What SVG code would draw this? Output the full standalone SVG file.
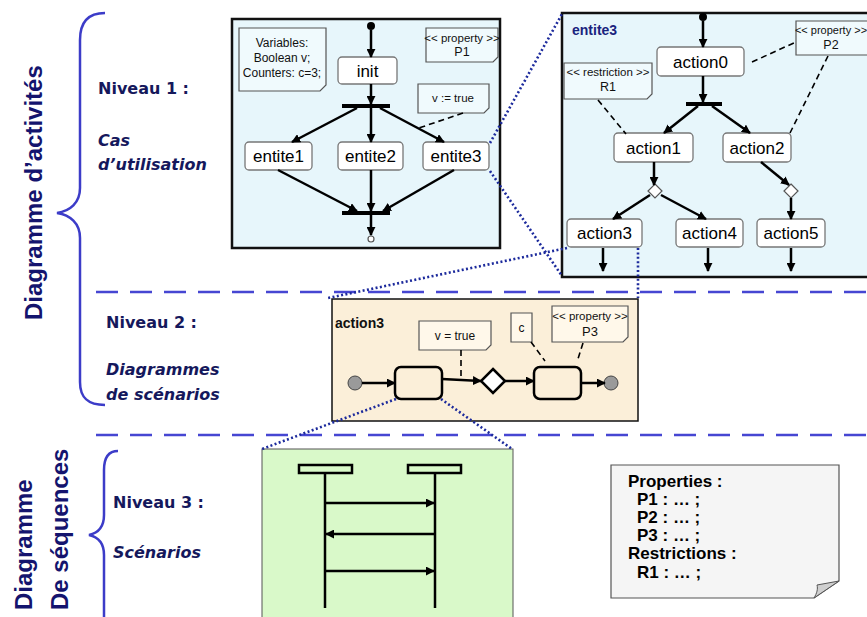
<svg xmlns="http://www.w3.org/2000/svg" width="867" height="617" viewBox="0 0 867 617">
  <defs>
    <marker id="arr" viewBox="0 0 10 10" refX="9" refY="5" markerWidth="9" markerHeight="9" markerUnits="userSpaceOnUse" orient="auto">
      <path d="M0,0 L10,5 L0,10 Z" fill="#000"/>
    </marker>
    <style>
      .sec { fill: #15185c; font-family: "DejaVu Sans", "Liberation Sans", sans-serif; font-weight: bold; font-size: 16px; }
      .sec-i { font-style: italic; }
      .title { fill: #14146e; font-family: "Liberation Sans", Arial, sans-serif; font-weight: bold; font-size: 24px; }
      .brace { fill: none; stroke: #3c3cc8; stroke-width: 2.5; }
      .split { stroke: #4646d2; stroke-width: 2.5; stroke-dasharray: 22 12; }
      .zoomline { stroke: #1c2a9c; stroke-width: 2.6; stroke-dasharray: 2 2.4; fill: none; }
      .frame { stroke: #111; stroke-width: 2.5; fill: #e7f6fb; }
      .node rect { fill: #fff; stroke: #777; stroke-width: 1.3; }
      .node text { font-family: "Liberation Sans", Arial, sans-serif; font-size: 17px; fill: #000; text-anchor: middle; }
      .flow { stroke: #000; stroke-width: 2.5; fill: none; marker-end: url(#arr); }
      .bar { fill: #000; }
      .anchor { stroke: #000; stroke-width: 1.6; stroke-dasharray: 6 4; fill: none; }
      .note path { fill: #f0fafd; stroke: #555; stroke-width: 1.2; }
      .note text { font-family: "Liberation Sans", Arial, sans-serif; font-size: 11.5px; fill: #111; text-anchor: middle; }
      .label { font-family: "Liberation Sans", Arial, sans-serif; font-weight: bold; font-size: 14px; }
      .slot { fill: #fbefd9; stroke: #000; stroke-width: 2.5; }
      .seq { stroke: #000; stroke-width: 2.5; fill: none; }
      .legend text { font-family: "Liberation Sans", Arial, sans-serif; font-weight: bold; font-size: 17px; fill: #000; }
    </style>
  </defs>

  <!-- left side: titles, braces, level captions -->
  <g id="titles">
    <text class="title" transform="translate(42,320) rotate(-90)">Diagramme d’activités</text>
    <text class="title" transform="translate(32,610) rotate(-90)">Diagramme</text>
    <text class="title" transform="translate(68,610) rotate(-90)">De séquences</text>
    <path class="brace" d="M105,13 C88,13 80,22 80,40 L80,188 C80,203 70,211 57,213 C70,215 80,223 80,238 L80,382 C80,398 88,405 105,405"/>
    <path class="brace" d="M118,451 C108,451 104,458 104,470 L104,515 C104,527 98,533 89,535 C98,537 104,543 104,555 L104,617"/>
  </g>

  <g id="captions">
    <text class="sec" x="98" y="94">Niveau 1 :</text>
    <text class="sec sec-i" x="98" y="146">Cas</text>
    <text class="sec sec-i" x="98" y="170">d’utilisation</text>
    <text class="sec" x="106" y="328">Niveau 2 :</text>
    <text class="sec sec-i" x="106" y="375">Diagrammes</text>
    <text class="sec sec-i" x="106" y="400">de scénarios</text>
    <text class="sec" x="113" y="508">Niveau 3 :</text>
    <text class="sec sec-i" x="113" y="558">Scénarios</text>
  </g>

  <g id="separators">
    <line class="split" x1="96" y1="292" x2="867" y2="292"/>
    <line class="split" x1="96" y1="435" x2="867" y2="435"/>
  </g>

  <!-- level 1: use-case activity -->
  <g id="usecase">
    <rect class="frame" x="232" y="19" width="268" height="229"/>
    <g class="note">
      <path d="M239,28 H326 V85 L320,91 H239 Z"/>
      <text x="282" y="47" style="font-size:12px">Variables:</text>
      <text x="282" y="62" style="font-size:12px">Boolean v;</text>
      <text x="282" y="77" style="font-size:12px">Counters: c=3;</text>
    </g>
    <g class="note">
      <path d="M426,28 H498 V57 L493,62 H426 Z"/>
      <text x="462" y="42">&lt;&lt; property &gt;&gt;</text>
      <text x="462" y="56" style="font-size:12.5px">P1</text>
    </g>
    <g class="note">
      <path d="M418,84 H489 V108 L484,113 H418 Z"/>
      <text x="453" y="102">v := true</text>
    </g>
    <circle cx="371" cy="26" r="4" fill="#000"/>
    <rect class="bar" x="342" y="104" width="48" height="4"/>
    <rect class="bar" x="342" y="211" width="48" height="4"/>
    <circle cx="371" cy="239" r="3" fill="#fff" stroke="#555" stroke-width="1.2"/>
  </g>
  <g id="init" class="node"><rect x="338" y="57" width="59" height="27" rx="4"/><text x="367.5" y="77">init</text></g>
  <g id="entite1" class="node"><rect x="245" y="142" width="67" height="28" rx="4"/><text x="278.5" y="162">entite1</text></g>
  <g id="entite2" class="node"><rect x="338" y="142" width="65" height="28" rx="4"/><text x="370.5" y="162">entite2</text></g>
  <g id="entite3" class="node"><rect x="423" y="142" width="66" height="28" rx="4"/><text x="456" y="162">entite3</text></g>

  <!-- level 1 detail: entite3 -->
  <g id="entite3-detail">
    <rect class="frame" x="562" y="13" width="320" height="264"/>
    <text class="label" x="572" y="35" fill="#1a237e">entite3</text>
    <g class="note">
      <path d="M564,63 H652 V94 L647,99 H564 Z"/>
      <text x="608" y="76">&lt;&lt; restriction &gt;&gt;</text>
      <text x="608" y="91" style="font-size:12.5px">R1</text>
    </g>
    <g class="note">
      <path d="M796,21 H876 V50 L871,55 H796 Z"/>
      <text x="831" y="34" style="font-size:11px">&lt;&lt; property &gt;&gt;</text>
      <text x="831" y="49" style="font-size:12.5px">P2</text>
    </g>
    <circle cx="703" cy="17" r="4" fill="#000"/>
    <rect class="bar" x="686" y="102" width="36" height="4"/>
    <path d="M655,184 L662,191 L655,198 L648,191 Z" fill="#fff" stroke="#555" stroke-width="1.2"/>
    <path d="M791,184 L798,191 L791,198 L784,191 Z" fill="#fff" stroke="#555" stroke-width="1.2"/>
  </g>
  <g id="action0" class="node"><rect x="657" y="47" width="87" height="29" rx="4"/><text x="700.5" y="68">action0</text></g>
  <g id="action1" class="node"><rect x="614" y="133" width="79" height="29" rx="4"/><text x="653.5" y="154">action1</text></g>
  <g id="action2" class="node"><rect x="723" y="133" width="68" height="29" rx="4"/><text x="757" y="154">action2</text></g>
  <g id="action3" class="node"><rect x="567" y="219" width="75" height="28" rx="4"/><text x="604.5" y="239">action3</text></g>
  <g id="action4" class="node"><rect x="676" y="219" width="67" height="28" rx="4"/><text x="709.5" y="239">action4</text></g>
  <g id="action5" class="node"><rect x="757" y="219" width="68" height="28" rx="4"/><text x="791" y="239">action5</text></g>

  <!-- level 2: scenario of action3 -->
  <g id="action3-detail">
    <rect x="332" y="299" width="306" height="122" fill="#fbefd9" stroke="#111" stroke-width="1.5"/>
    <text class="label" x="335" y="328" fill="#111">action3</text>
    <g class="note">
      <path d="M419,321 H491 V345 L486,350 H419 Z" style="fill:#fff8ea"/>
      <text x="455" y="340" style="font-size:12px">v = true</text>
    </g>
    <g class="note">
      <path d="M511,313 H532 V342 H511 Z" style="fill:#fff8ea"/>
      <text x="521.5" y="332" style="font-size:12px">c</text>
    </g>
    <g class="note">
      <path d="M552,306 H628 V337 L623,342 H552 Z" style="fill:#fff8ea"/>
      <text x="590" y="320">&lt;&lt; property &gt;&gt;</text>
      <text x="590" y="336" style="font-size:13px">P3</text>
    </g>
    <circle cx="355" cy="383" r="7" fill="#9a9a9a" stroke="#444" stroke-width="1"/>
    <circle cx="611" cy="383" r="7" fill="#9a9a9a" stroke="#444" stroke-width="1"/>
    <path d="M493,369 L505,381 L493,393 L481,381 Z" fill="#fff" stroke="#000" stroke-width="2.5"/>
  </g>
  <g id="step1"><rect class="slot" x="395" y="367" width="47" height="32" rx="6"/></g>
  <g id="step2"><rect class="slot" x="534" y="367" width="47" height="32" rx="6"/></g>

  <!-- level 3: sequence -->
  <g id="sequence">
    <rect x="262" y="449" width="251" height="175" fill="#d9f9c9" stroke="#555" stroke-width="1"/>
    <rect x="299" y="465" width="53" height="8" fill="#d9f9c9" stroke="#000" stroke-width="2.5"/>
    <rect x="408" y="465" width="53" height="8" fill="#d9f9c9" stroke="#000" stroke-width="2.5"/>
    <line class="seq" x1="325" y1="473" x2="325" y2="608"/>
    <line class="seq" x1="435" y1="473" x2="435" y2="608"/>
    <line class="seq" x1="325" y1="503" x2="434" y2="503" marker-end="url(#arr)"/>
    <line class="seq" x1="435" y1="534" x2="326" y2="534" marker-end="url(#arr)"/>
    <line class="seq" x1="325" y1="571" x2="434" y2="571" marker-end="url(#arr)"/>
  </g>

  <!-- legend of properties and restrictions -->
  <g id="legend" class="legend">
    <path d="M611,465 H839 V581 L814,598 H611 Z" fill="#f5f5f5" stroke="#555" stroke-width="1.2"/>
    <path d="M839,581 L814,598 C817,593 818,589 817,585 Z" fill="#cfcfcf" stroke="#555" stroke-width="1"/>
    <text x="628" y="487">Properties :</text>
    <text x="637" y="505">P1 : … ;</text>
    <text x="637" y="523">P2 : … ;</text>
    <text x="637" y="541">P3 : … ;</text>
    <text x="628" y="559">Restrictions :</text>
    <text x="637" y="578">R1 : … ;</text>
  </g>

  <!-- connectors -->
  <g id="connectors">
    <line class="flow" x1="371" y1="30" x2="371" y2="57"/>
    <line class="flow" x1="371" y1="84" x2="371" y2="104"/>
    <line class="flow" x1="357" y1="108" x2="292" y2="142"/>
    <line class="flow" x1="371" y1="108" x2="371" y2="142"/>
    <line class="flow" x1="380" y1="108" x2="444" y2="142"/>
    <line class="flow" x1="278" y1="170" x2="357" y2="211"/>
    <line class="flow" x1="371" y1="170" x2="371" y2="211"/>
    <line class="flow" x1="454" y1="170" x2="383" y2="211"/>
    <line class="flow" x1="371" y1="215" x2="371" y2="235"/>
    <line class="anchor" x1="463" y1="113" x2="416" y2="129"/>

    <line class="flow" x1="703" y1="21" x2="703" y2="47"/>
    <line class="flow" x1="703" y1="76" x2="703" y2="102"/>
    <line class="flow" x1="698" y1="106" x2="664" y2="133"/>
    <line class="flow" x1="712" y1="106" x2="750" y2="133"/>
    <line class="flow" x1="654" y1="162" x2="654" y2="185"/>
    <line class="flow" x1="650" y1="195" x2="613" y2="219"/>
    <line class="flow" x1="661" y1="195" x2="706" y2="219"/>
    <line class="flow" x1="761" y1="162" x2="789" y2="185"/>
    <line class="flow" x1="791" y1="198" x2="791" y2="219"/>
    <line class="flow" x1="603" y1="248" x2="603" y2="271"/>
    <line class="flow" x1="708" y1="248" x2="708" y2="271"/>
    <line class="flow" x1="791" y1="248" x2="791" y2="271"/>
    <line class="anchor" x1="752" y1="62" x2="796" y2="42"/>
    <line class="anchor" x1="598" y1="100" x2="626" y2="134"/>
    <line class="anchor" x1="828" y1="56" x2="790" y2="133"/>

    <line class="flow" x1="362" y1="383" x2="395" y2="383"/>
    <line class="flow" x1="442" y1="379" x2="481" y2="381"/>
    <line class="flow" x1="505" y1="381" x2="534" y2="381"/>
    <line class="flow" x1="581" y1="383" x2="605" y2="383"/>
    <line class="anchor" x1="461" y1="350" x2="461" y2="379"/>
    <line class="anchor" x1="531" y1="342" x2="545" y2="361"/>
    <line class="anchor" x1="583" y1="343" x2="577" y2="362"/>

    <line class="zoomline" x1="490" y1="143" x2="562" y2="14"/>
    <line class="zoomline" x1="490" y1="171" x2="562" y2="276"/>
    <line class="zoomline" x1="567" y1="248" x2="328" y2="298"/>
    <line class="zoomline" x1="638" y1="248" x2="638" y2="298"/>
    <line class="zoomline" x1="396" y1="399" x2="262" y2="449"/>
    <line class="zoomline" x1="441" y1="399" x2="512" y2="449"/>
  </g>
</svg>
